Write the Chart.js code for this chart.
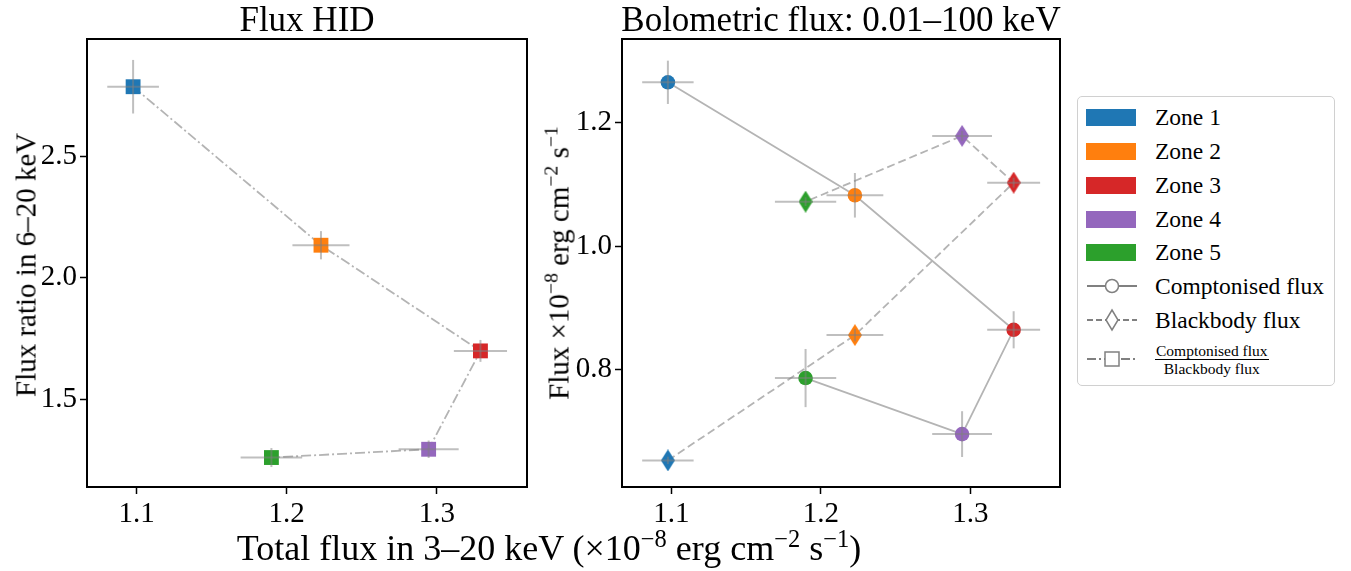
<!DOCTYPE html>
<html>
<head>
<meta charset="utf-8">
<script src="https://cdn.jsdelivr.net/npm/chart.js@4"></script>
<style>
  body { margin: 0; background: #fff; font-family: 'Liberation Serif', serif; }
  #wrap { position: relative; width: 1351px; height: 571px; overflow: hidden; }
  canvas { position: absolute; top: 0; }
  .txt { position: absolute; white-space: nowrap; color: #000; }
  .title { font-size: 35px; top: 0px; transform: translateX(-50%); }
  .ylab { font-size: 29px; transform: translate(-50%, -50%) rotate(-90deg); }
  sup { font-size: 68%; vertical-align: 0.55em; line-height: 0; }
  #legend { position: absolute; left: 1077px; top: 96px; width: 256px; height: 288px;
            border: 1.5px solid #d0d0d0; border-radius: 5px; background: #fff; }
  .row { position: absolute; left: 8px; height: 26px; display: flex; align-items: center; font-size: 23.5px; }
  .patch { width: 50px; height: 17px; margin-right: 19px; }
  .row svg { margin-right: 17px; }
  .frac { font-size: 15.5px; text-align: center; line-height: 17px; }
  .frac .num { border-bottom: 1.3px solid #000; padding: 0 1px; }
</style>
</head>
<body>
<div id="wrap">
  <canvas id="hid" width="560" height="530" style="left:0px"></canvas>
  <canvas id="bol" width="540" height="530" style="left:540px"></canvas>

  <div class="txt title" style="left:307px">Flux HID</div>
  <div class="txt title" style="left:841px">Bolometric flux: 0.01–100 keV</div>
  <div class="txt ylab" style="left:26px; top:265px">Flux ratio in 6–20 keV</div>
  <div class="txt ylab" style="left:559px; top:263px">Flux ×10<sup>−8</sup> erg cm<sup>−2</sup> s<sup>−1</sup></div>
  <div class="txt" style="left:549px; top:527px; font-size:36px; transform:translateX(-50%)">Total flux in 3–20 keV (×10<sup>−8</sup> erg cm<sup>−2</sup> s<sup>−1</sup>)</div>

  <div id="legend"></div>
</div>

<script>
// zones and colours
const zones = ['Zone 1', 'Zone 2', 'Zone 3', 'Zone 4', 'Zone 5'];
const zoneColors = ['#1f77b4', '#ff7f0e', '#d62728', '#9467bd', '#2ca02c'];

// total flux 3-20 keV (x, shared)
const totalFlux = [1.0977, 1.2228, 1.3290, 1.2945, 1.1898];
const totalFluxErr = [0.0172, 0.0190, 0.0177, 0.0200, 0.0205];

// HID: flux ratio in 6-20 keV
const fluxRatio = [2.785, 2.134, 1.700, 1.296, 1.262];
const fluxRatioErr = [0.110, 0.058, 0.045, 0.036, 0.039];

// bolometric fluxes
const comptFlux = [1.2646, 1.082, 0.8646, 0.696, 0.7866];
const comptFluxErr = [0.035, 0.036, 0.030, 0.037, 0.047];
const bbFlux = [0.6535, 0.856, 1.1024, 1.178, 1.0717];
const bbFluxErr = [0.006, 0.010, 0.008, 0.008, 0.007];

// ticks
const xTicks = [1.1, 1.2, 1.3];
const hidTicks = [1.5, 2.0, 2.5];
const bolTicks = [0.8, 1.0, 1.2];

const lineGrey = '#b4b4b4';
const errGrey = 'rgba(128,128,128,0.5)';
const tickFont = { family: 'Liberation Serif', size: 29 };

const pts = (ys) => totalFlux.map((x, i) => ({ x: x, y: ys[i] }));

// thin diamond marker like matplotlib 'd'
function thinDiamond(color) {
    const c = document.createElement('canvas');
    c.width = 14; c.height = 22;
    const g = c.getContext('2d');
    g.fillStyle = color;
    g.beginPath();
    g.moveTo(7, 0); g.lineTo(14, 11); g.lineTo(7, 22); g.lineTo(0, 11);
    g.closePath();
    g.fill();
    return c;
}

const errorBars = {
    id: 'errorBars',
    afterDatasetsDraw(chart) {
        const { ctx, scales: { x, y } } = chart;
        ctx.save();
        ctx.strokeStyle = errGrey;
        ctx.lineWidth = 2;
        chart.data.datasets.forEach(ds => {
            if (!ds.yErr) return;
            ds.data.forEach((p, i) => {
                const px = x.getPixelForValue(p.x);
                const py = y.getPixelForValue(p.y);
                ctx.beginPath();
                ctx.moveTo(x.getPixelForValue(p.x - totalFluxErr[i]), py);
                ctx.lineTo(x.getPixelForValue(p.x + totalFluxErr[i]), py);
                ctx.stroke();
                ctx.beginPath();
                ctx.moveTo(px, y.getPixelForValue(p.y - ds.yErr[i]));
                ctx.lineTo(px, y.getPixelForValue(p.y + ds.yErr[i]));
                ctx.stroke();
            });
        });
        ctx.restore();
    }
};

const frame = {
    id: 'frame',
    afterDraw(chart) {
        const { ctx, chartArea: a } = chart;
        ctx.save();
        ctx.strokeStyle = '#000';
        ctx.lineWidth = 2;
        ctx.strokeRect(a.left, a.top, a.right - a.left, a.bottom - a.top);
        ctx.restore();
    }
};

function axis(min, max, ticks, width, height) {
    return {
        type: 'linear',
        min: min,
        max: max,
        border: { display: false },
        grid: { drawOnChartArea: false, drawTicks: true, tickLength: 7, color: '#000', tickWidth: 1.5 },
        ticks: { font: tickFont, color: '#000', padding: 3, callback: v => v.toFixed(1) },
        afterBuildTicks: s => { s.ticks = ticks.map(v => ({ value: v })); },
        afterFit: s => {
            if (width) s.width = width;
            if (height) s.height = height;
        }
    };
}

function opts(yMin, yMax, yTicks, yWidth, padRight) {
    return {
        responsive: false,
        animation: false,
        layout: { padding: { left: 0, top: 39, right: padRight, bottom: 0 } },
        plugins: { legend: { display: false }, tooltip: { enabled: false } },
        scales: {
            x: axis(1.067, 1.36, xTicks, null, 43),
            y: axis(yMin, yMax, yTicks, yWidth, null)
        }
    };
}

new Chart(document.getElementById('hid'), {
    type: 'scatter',
    data: {
        datasets: [
            {
                data: pts(fluxRatio),
                yErr: fluxRatioErr,
                pointStyle: 'rect',
                pointRadius: 10.5,
                backgroundColor: zoneColors,
                borderWidth: 0,
                showLine: false
            },
            {
                data: pts(fluxRatio),
                showLine: true,
                pointRadius: 0,
                borderColor: lineGrey,
                borderWidth: 1.8,
                borderDash: [10, 3, 2, 3]
            }
        ]
    },
    options: opts(1.141, 2.981, hidTicks, 87, 33),
    plugins: [errorBars, frame]
});

new Chart(document.getElementById('bol'), {
    type: 'scatter',
    data: {
        datasets: [
            {
                data: pts(comptFlux),
                yErr: comptFluxErr,
                pointStyle: 'circle',
                pointRadius: 7.3,
                backgroundColor: zoneColors,
                borderWidth: 0,
                showLine: false
            },
            {
                data: pts(bbFlux),
                yErr: bbFluxErr,
                pointStyle: zoneColors.map(thinDiamond),
                showLine: false
            },
            {
                data: pts(comptFlux),
                showLine: true,
                pointRadius: 0,
                borderColor: lineGrey,
                borderWidth: 1.8
            },
            {
                data: pts(bbFlux),
                showLine: true,
                pointRadius: 0,
                borderColor: lineGrey,
                borderWidth: 1.8,
                borderDash: [8, 4]
            }
        ]
    },
    options: opts(0.6105, 1.3346, bolTicks, 82, 20),
    plugins: [errorBars, frame]
});

// legend
const legend = document.getElementById('legend');
const rowTops = [7, 41, 75, 109, 142, 176, 210];
zones.forEach((z, i) => {
    legend.insertAdjacentHTML('beforeend',
        `<div class="row" style="top:${rowTops[i]}px"><div class="patch" style="background:${zoneColors[i]}"></div>${z}</div>`);
});
const handle = (dash, marker) =>
    `<svg width="52" height="24"><line x1="1" y1="12" x2="51" y2="12" stroke="#808080" stroke-width="2" stroke-dasharray="${dash}"/>${marker}</svg>`;
legend.insertAdjacentHTML('beforeend',
    `<div class="row" style="top:${rowTops[5]}px">${handle('none', '<circle cx="26" cy="12" r="6.5" fill="#fff" stroke="#808080" stroke-width="1.5"/>')}Comptonised flux</div>`);
legend.insertAdjacentHTML('beforeend',
    `<div class="row" style="top:${rowTops[6]}px">${handle('6 3', '<polygon points="26,2 32,12 26,22 20,12" fill="#fff" stroke="#808080" stroke-width="1.5"/>')}Blackbody flux</div>`);
legend.insertAdjacentHTML('beforeend',
    `<div class="row" style="top:242px; height:40px">${handle('9 3 2 3', '<rect x="19" y="5" width="14" height="14" fill="#fff" stroke="#808080" stroke-width="1.5"/>')}<div class="frac"><div class="num">Comptonised flux</div><div>Blackbody flux</div></div></div>`);
</script>
</body>
</html>
